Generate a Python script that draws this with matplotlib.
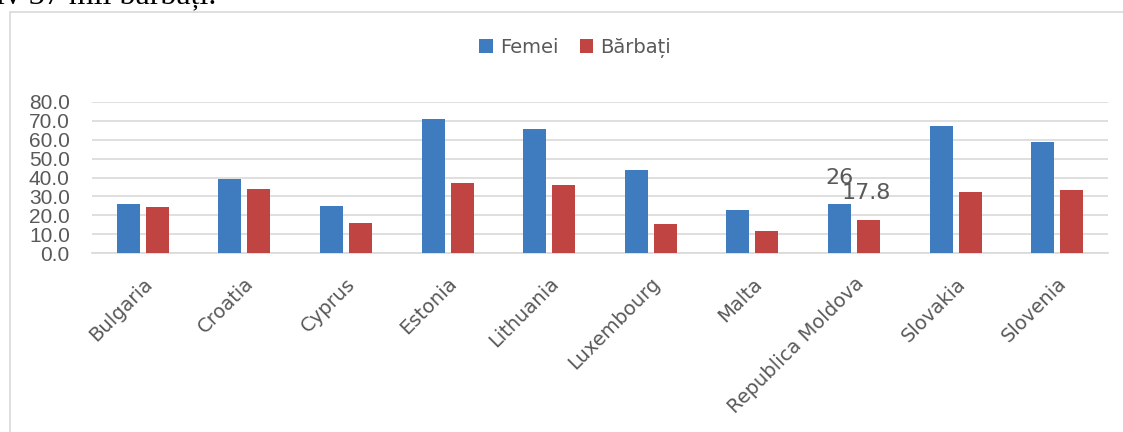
import matplotlib.pyplot as plt
from matplotlib.patches import Rectangle
import numpy as np

countries = ["Bulgaria", "Croatia", "Cyprus", "Estonia", "Lithuania",
             "Luxembourg", "Malta", "Republica Moldova", "Slovakia", "Slovenia"]
femei = [26.2, 39.4, 24.9, 70.9, 65.6, 44.0, 22.8, 26.0, 67.2, 58.7]
barbati = [24.2, 33.9, 16.0, 37.1, 36.0, 15.5, 11.8, 17.8, 32.3, 33.4]
yticks = [0, 10, 20, 30, 40, 50, 60, 70, 80]

blue = "#3E7BBF"
red = "#C04441"
grey = "#595959"

fig = plt.figure(figsize=(11.23, 4.32), dpi=100)

# chart frame of the embedded chart
fig.patches.append(Rectangle((10 / 1123, -0.1), 1.2, 1 - 12 / 432 + 0.1,
                             transform=fig.transFigure, fill=False,
                             edgecolor="#d9d9d9", linewidth=1.2))
# clipped line of the surrounding document text
fig.text(-0.004, 1 - 4 / 432, "iv 37 mii bărbați.", fontsize=23,
         family="Liberation Serif", color="black", va="baseline", ha="left")

ax = fig.add_axes([92 / 1123, 1 - 253.3 / 432, 1016 / 1123, 151.6 / 432])
x = np.arange(len(countries))
w = 0.226
off = 0.143
ax.bar(x - off, femei, w, color=blue, label="Femei", zorder=3)
ax.bar(x + off, barbati, w, color=red, label="Bărbați", zorder=3)

ax.set_xlim(-0.5, len(countries) - 0.5)
ax.set_ylim(0, 80)
ax.set_yticks(yticks)
ax.set_yticklabels([f"{v:.1f}" for v in yticks])
ax.yaxis.grid(True, color="#d9d9d9", linewidth=1.2, zorder=0)
for s in ["top", "right", "left"]:
    ax.spines[s].set_visible(False)
ax.spines["bottom"].set_color("#d9d9d9")
ax.spines["bottom"].set_linewidth(1.2)
ax.tick_params(axis="y", length=0, pad=16, labelsize=15, labelcolor=grey)
ax.tick_params(axis="x", length=0, pad=15, labelsize=14, labelcolor=grey)
ax.set_xticks(x)
ax.set_xticklabels(countries, rotation=45, ha="right", rotation_mode="anchor")
for lbl in ax.get_yticklabels():
    lbl.set_fontfamily("Liberation Sans")

# data labels shown only for Moldova
i = countries.index("Republica Moldova")
ax.text(x[i] - off, femei[i] + 8.5, f"{femei[i]:g}", fontsize=16,
        color=grey, ha="center", va="bottom")
ax.text(x[i] + off - 0.02, barbati[i] + 8.8, f"{barbati[i]:g}", fontsize=16,
        color=grey, ha="center", va="bottom")

fig.legend(loc="center", bbox_to_anchor=(0.512, 1 - 48 / 432), ncol=2,
           frameon=False, fontsize=14, labelcolor=grey, handlelength=0.7,
           handleheight=0.7, handletextpad=0.35, columnspacing=1.1)

fig.savefig("out.png", dpi=100)
